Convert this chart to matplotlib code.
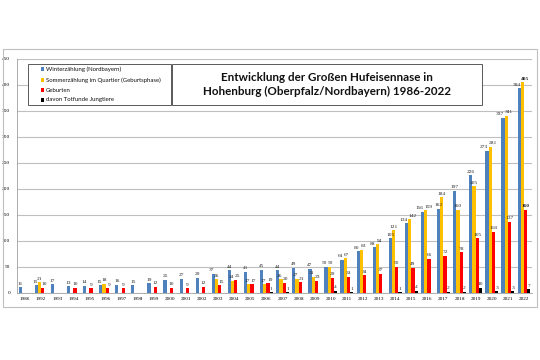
import numpy as np
import matplotlib
matplotlib.use("Agg")
import matplotlib.pyplot as plt
from matplotlib.patches import Rectangle

years = ["1986", "1992", "1993", "1994", "1995", "1996", "1997", "1998", "1999", "2000",
         "2001", "2002", "2003", "2004", "2005", "2006", "2007", "2008", "2009", "2010",
         "2011", "2012", "2013", "2014", "2015", "2016", "2017", "2018", "2019", "2020",
         "2021", "2022"]
nan = np.nan
winter = [11, 15, 17, 13, 14, 15, 16, 15, 19, 25, 27, 29, 37, 44, 41, 45, 44, 49, 47, 50,
          64, 80, 88, 105, 134, 156, 162, 197, 226, 273, 337, 394]
sommer = [nan, 21, nan, nan, nan, 18, nan, nan, nan, nan, nan, nan, 26, 24, 17, 17, 26, 27, 31, 50,
          67, 83, 94, 121, 142, 159, 184, 160, 205, 281, 341, 405]
geburten = [nan, 10, nan, 10, 9, 9, 9, nan, 12, 10, 9, 12, 15, 25, 17, 19, 20, 21, 23, 29,
            31, 34, 37, 50, 49, 66, 72, 78, 105, 118, 137, 160]
totfunde = [nan, nan, nan, nan, nan, nan, nan, nan, nan, nan, nan, nan, nan, nan, nan, 1, 1, nan, nan, 4,
            1, nan, nan, 1, 4, nan, 2, 2, 10, 3, 3, 7]
series_names = ["Winterzählung (Nordbayern)",
                "Sommerzählung im Quartier (Geburtsphase)",
                "Geburten",
                "davon Totfunde Jungtiere"]
title_text = "Entwicklung der Großen Hufeisennase in\nHohenburg (Oberpfalz/Nordbayern) 1986-2022"
colors = ["#4F81BD", "#FFC000", "#FF0000", "#000000"]

fig = plt.figure(figsize=(5.4, 3.6), dpi=100)
fig.patch.set_facecolor("white")
# outer chart frame
fig.patches.append(Rectangle((3/540, 1-307/360), 534/540, 258/360, transform=fig.transFigure,
                             fill=False, ec="#BFBFBF", lw=0.8))

ax = fig.add_axes([17/540, 1-293/360, 515/540, 234/360])
x = np.arange(len(years))
w = 0.2
offs = [-0.3, -0.1, 0.1, 0.3]
data = [np.array(d, dtype=float) for d in (winter, sommer, geburten, totfunde)]
last = len(years) - 1

for v, off, col in zip(data, offs, colors):
    ax.bar(x + off, v, width=w, color=col, zorder=3, linewidth=0)

# label x-nudges where neighbouring labels would collide
nudge = np.zeros((4, len(years)))
for j in range(len(years)):
    for s in range(3):
        a, b = data[s][j], data[s + 1][j]
        if not np.isnan(a) and not np.isnan(b) and abs(a - b) < 12:
            d = 0.17 if max(a, b) >= 100 else 0.1
            nudge[s, j] -= d
            nudge[s + 1, j] += d

for si, (v, off) in enumerate(zip(data, offs)):
    for xi, vi in zip(x, v):
        if not np.isnan(vi):
            bold = (xi == last and si in (1, 2))
            ax.text(xi + off + nudge[si, xi], vi + 3, f"{int(vi)}", ha="center", va="bottom",
                    fontsize=3.9, family="Liberation Serif", color="#222222", zorder=4,
                    fontweight="bold" if bold else "normal")

ax.set_xlim(-0.5, len(years) - 0.5)
ax.set_ylim(0, 450)
ax.set_yticks(np.arange(0, 451, 50))
ax.set_xticks(x)
ax.set_xticklabels(years)
ax.tick_params(axis="x", length=0, labelsize=3.7, pad=3)
ax.tick_params(axis="y", length=0, labelsize=3.9, pad=5)
for lab in ax.get_xticklabels() + ax.get_yticklabels():
    lab.set_family("Liberation Serif")
ax.grid(axis="y", color="#BFBFBF", lw=0.8, zorder=0)
for s in ["top", "right"]:
    ax.spines[s].set_visible(False)
ax.spines["left"].set_color("#A0A0A0")
ax.spines["bottom"].set_color("#A0A0A0")
ax.spines["left"].set_linewidth(0.6)
ax.spines["bottom"].set_linewidth(0.6)

# legend box
lx0, lx1 = (28-17)/515, (171-17)/515
by0, by1 = (293-105)/234, (293-64)/234
ax.add_patch(Rectangle((lx0, by0), lx1-lx0, by1-by0, transform=ax.transAxes,
                       fc="white", ec="#595959", lw=0.7, zorder=5))
ys_px = [69, 80, 90, 100]
for name, col, yp in zip(series_names, colors, ys_px):
    yy = (293-yp)/234
    ax.add_patch(Rectangle(((41-17)/515, yy-0.008), 3/515, 0.016, transform=ax.transAxes,
                           fc=col, ec="none", zorder=6))
    ax.text((45.5-17)/515, yy, name, transform=ax.transAxes, fontsize=4.3, family="Lato",
            va="center", ha="left", zorder=6, color="#111111")

# title box
tx0, tx1 = (172-17)/515, (482-17)/515
ax.add_patch(Rectangle((tx0, by0), tx1-tx0, by1-by0, transform=ax.transAxes,
                       fc="white", ec="#595959", lw=0.7, zorder=5))
ax.text((tx0+tx1)/2, (by0+by1)/2, title_text, transform=ax.transAxes, ha="center",
        va="center", fontsize=8.4, family="Lato", fontweight="bold", zorder=6,
        linespacing=1.3, color="#111111")

fig.savefig("out.png", dpi=100, facecolor="white")
